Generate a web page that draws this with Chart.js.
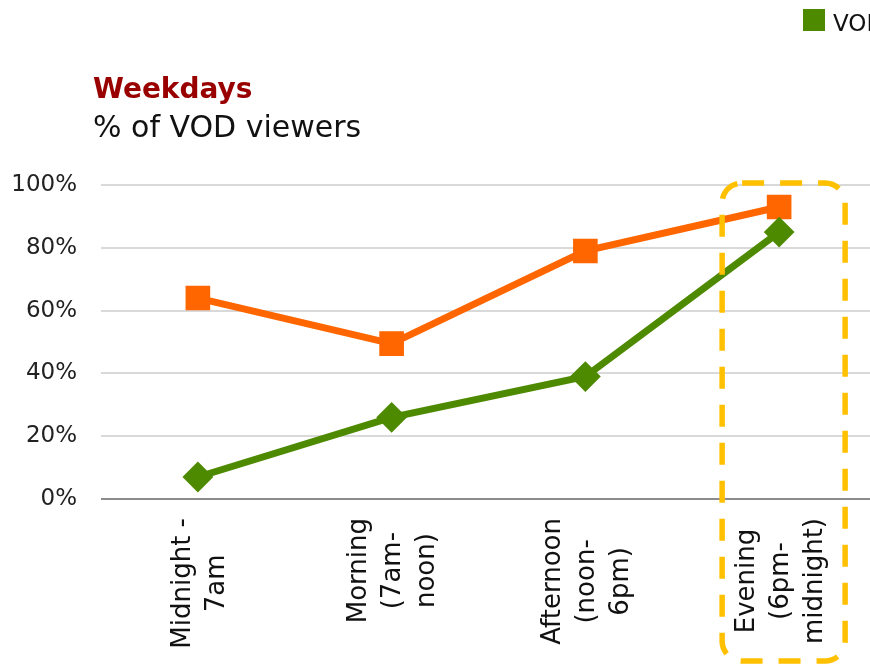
<!DOCTYPE html>
<html>
<head>
<meta charset="utf-8">
<script src="https://cdn.jsdelivr.net/npm/chart.js"></script>
<style>
  html, body { margin: 0; padding: 0; background: #fff; overflow: hidden; }
  #wrap { position: relative; width: 870px; height: 667px; overflow: hidden; }
  #viewersChart { display: block; }
</style>
</head>
<body>
<div id="wrap"><canvas id="viewersChart" width="880" height="667"></canvas></div>
<script>
// data
const categories = [
    ['Midnight -', '7am'],
    ['Morning', '(7am-', 'noon)'],
    ['Afternoon', '(noon-', '6pm)'],
    ['Evening', '(6pm-', 'midnight)']
];
const vodViewers = [7, 26, 39, 85];
const allViewers = [64, 49.5, 79, 93];
const yTickValues = [0, 20, 40, 60, 80, 100];

const GREEN = '#4E8A00';
const ORANGE = '#FF6600';
const FONT = '"DejaVu Sans", sans-serif';

// titles, cut-off legend, rotated centered category labels and the highlight box
const decorPlugin = {
    id: 'decor',
    afterDraw(chart) {
        const { ctx, scales: { x, y } } = chart;
        ctx.save();

        ctx.textAlign = 'left';
        ctx.textBaseline = 'alphabetic';
        ctx.fillStyle = '#990000';
        ctx.font = 'bold 28px ' + FONT;
        ctx.fillText('Weekdays', 93, 98);
        ctx.fillStyle = '#111';
        ctx.font = '30px ' + FONT;
        ctx.fillText('% of VOD viewers', 93, 137);

        // legend (runs off the right edge like the original)
        ctx.fillStyle = GREEN;
        ctx.fillRect(803, 9, 22, 22);
        ctx.fillStyle = '#111';
        ctx.font = '23px ' + FONT;
        ctx.fillText('VOD viewers', 833, 31);

        // category labels
        ctx.font = '26px ' + FONT;
        ctx.fillStyle = '#111';
        categories.forEach((lines, i) => {
            const px = x.getPixelForValue(i);
            const maxW = Math.max(...lines.map(l => ctx.measureText(l).width));
            ctx.save();
            ctx.translate(px + 2, y.bottom + 19 + maxW / 2);
            ctx.rotate(-Math.PI / 2);
            ctx.textAlign = 'center';
            ctx.textBaseline = 'middle';
            lines.forEach((l, k) => ctx.fillText(l, 0, (k - (lines.length - 1) / 2) * 34));
            ctx.restore();
        });

        // dashed box around the evening slot
        const cx = x.getPixelForValue(3);
        const left = cx - 57, right = cx + 66;
        const top = y.getPixelForValue(100) - 2, bottom = 661;
        ctx.strokeStyle = '#FFC000';
        ctx.lineWidth = 5.5;
        ctx.setLineDash([22, 16]);
        ctx.beginPath();
        ctx.roundRect(left, top, right - left, bottom - top, 20);
        ctx.stroke();

        ctx.restore();
    }
};

document.addEventListener('DOMContentLoaded', function() {
    const ctx = document.getElementById('viewersChart').getContext('2d');
    new Chart(ctx, {
        type: 'line',
        data: {
            labels: categories.map(c => c.join(' ')),
            datasets: [{
                label: 'VOD viewers',
                data: vodViewers,
                borderColor: GREEN,
                backgroundColor: GREEN,
                borderWidth: 7,
                pointStyle: 'rectRot',
                pointRadius: 14,
                pointBorderWidth: 2,
                tension: 0
            }, {
                label: 'All viewers',
                data: allViewers,
                borderColor: ORANGE,
                backgroundColor: ORANGE,
                borderWidth: 7,
                pointStyle: 'rect',
                pointRadius: 16,
                pointBorderWidth: 2,
                tension: 0
            }]
        },
        options: {
            responsive: false,
            animation: false,
            layout: { autoPadding: false, padding: { top: 185, right: 4, left: 0, bottom: 0 } },
            plugins: {
                legend: { display: false },
                tooltip: { enabled: false }
            },
            scales: {
                x: {
                    offset: true,
                    grid: { display: false },
                    border: { display: false },
                    ticks: { display: false },
                    afterFit(scale) { scale.height = 168; }
                },
                y: {
                    min: 0,
                    max: 100,
                    afterBuildTicks(scale) { scale.ticks = yTickValues.map(v => ({ value: v })); },
                    ticks: {
                        padding: 24,
                        color: '#222',
                        font: { family: 'DejaVu Sans', size: 23 },
                        callback: v => v + '%'
                    },
                    grid: {
                        drawTicks: false,
                        lineWidth: 2,
                        color: c => c.tick && c.tick.value === 0 ? '#8c8c8c' : '#d9d9d9'
                    },
                    border: { display: false },
                    afterFit(scale) { scale.width = 101; }
                }
            }
        },
        plugins: [decorPlugin]
    });
});
</script>
</body>
</html>
